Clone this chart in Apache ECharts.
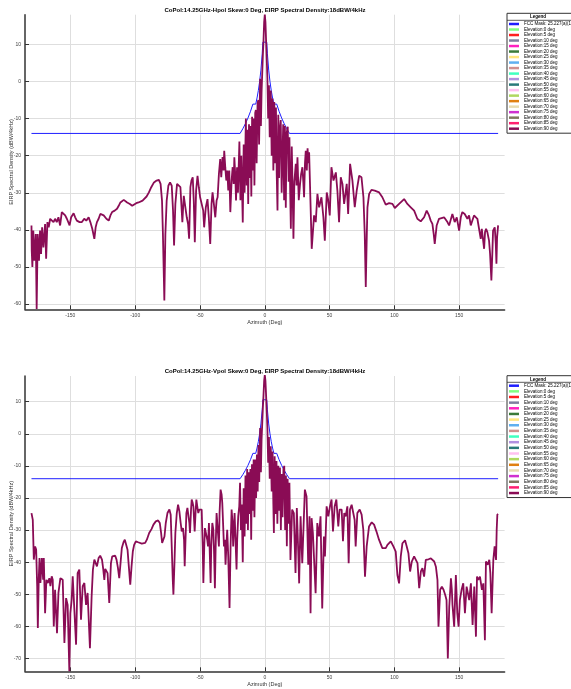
<!DOCTYPE html>
<html><head><meta charset="utf-8">
<script src="https://cdn.jsdelivr.net/npm/echarts@6/dist/echarts.min.js"></script>
<style>html,body{margin:0;padding:0;background:#fff}#c{width:571px;height:689px}</style>
</head><body><div id="c"></div>
<script>
const titleTop = 'CoPol:14.25GHz-Hpol Skew:0 Deg, EIRP Spectral Density:18dBW/4kHz';
const titleBot = 'CoPol:14.25GHz-Vpol Skew:0 Deg, EIRP Spectral Density:18dBW/4kHz';
const xName = 'Azimuth (Deg)';
const yName = 'EIRP Spectral Density (dBW/4kHz)';
const maskName = 'FCC Mask: 25.227(a)(1)(i)';
const elevNames = ['Elevation:0 deg','Elevation:5 deg','Elevation:10 deg','Elevation:15 deg','Elevation:20 deg','Elevation:25 deg','Elevation:30 deg','Elevation:35 deg','Elevation:40 deg','Elevation:45 deg','Elevation:50 deg','Elevation:55 deg','Elevation:60 deg','Elevation:65 deg','Elevation:70 deg','Elevation:75 deg','Elevation:80 deg','Elevation:85 deg','Elevation:90 deg'];
const elevColors = ['#80ff80','#ff2020','#7f7f9f','#ff20c0','#3a7a3a','#ffe680','#60b0f0','#d09090','#40ffc0','#b090e0','#2a7a7a','#ffc0f0','#b0d860','#e08010','#e8dcb0','#d030d0','#807860','#ff2070','#8a0c55'];

const maskAz = [-180,-19.05,-17,-15,-13,-11,-9.2,-7,-6,-5,-4,-3,-2,-1.5,1.5,2,3,4,5,6,7,9.2,11,13,15,17,19.05,180];
const maskDb = [-14,-14,-12.76,-11.4,-9.85,-8.03,-6.1,-6.1,-4.45,-2.47,-0.05,3.07,7.47,10.6,10.6,7.47,3.07,-0.05,-2.47,-4.45,-6.1,-6.1,-8.03,-9.85,-11.4,-12.76,-14,-14];

const hpolAz = [-180,-179.8,-179.3,-178.6,-177.8,-176.7,-176,-175.2,-174.2,-173.4,-172.6,-171.8,-170.8,-169.5,-168.7,-167.7,-166.7,-165.6,-164.3,-163,-161.8,-160.5,-159.2,-157.9,-156.6,-155.3,-154,-152.7,-150.6,-149.4,-147.5,-146.3,-145,-142.9,-141.1,-139.3,-137.7,-135.9,-134.6,-133.1,-131.5,-130.5,-129.5,-128.2,-126.9,-125.6,-124.3,-122.2,-120.4,-119.1,-117.8,-115.8,-114,-112.7,-111.4,-110.1,-108.8,-107.5,-106.2,-104.1,-102.3,-101,-99.2,-97.4,-95.9,-94.3,-92.8,-91.2,-89.4,-87.6,-85.5,-83.5,-81.7,-80.4,-79.3,-78.6,-77.5,-76.7,-75.7,-74.4,-73.1,-71.8,-70.8,-70,-69,-67.7,-66.4,-65.1,-63.6,-62.5,-61.5,-60.2,-59.2,-58.4,-57.4,-56.6,-55.6,-54.8,-54,-53,-51.9,-50.9,-49.9,-48.6,-47.5,-46.8,-45.5,-44.2,-43.2,-42.1,-41.1,-40.3,-39.3,-38.2,-37.2,-36.4,-35.4,-34.4,-33.6,-32.6,-31.8,-31.3,-30.5,-29.7,-28.9,-28.2,-27.4,-26.6,-25.6,-24.8,-24,-23.5,-22.7,-22.2,-21.4,-20.7,-19.6,-18.8,-18.1,-17,-16.3,-15.6,-14.6,-14,-13.4,-12.8,-12.2,-11.6,-11,-10.4,-9.8,-9.2,-8.6,-8,-7.4,-6.9,-6.3,-5.6,-5,-4.4,-3.6,-3,-2.5,-2,-1.5,-1,-0.5,0,0.5,1,1.5,2,2.6,3.2,3.8,4.6,5.3,6,6.6,7.3,8,8.6,9.2,9.8,10.4,11,11.6,12.3,13,13.6,14.2,14.9,15.5,16.2,16.8,17.7,18.4,19,19.6,20.1,20.8,21.5,22.1,22.8,23.9,24.5,25.2,26.2,27.2,28,29,29.7,30.3,31,31.6,32.4,33,33.6,34.2,35.2,36.2,38,39.3,40.6,41.9,43.7,45.2,46.3,47.8,48.8,50.1,51.4,53,54.8,56,57.3,58.6,59.9,61.2,63.2,64.3,65.8,67.6,69.4,70.9,72.8,74.6,76.1,77.1,77.9,78.7,79.2,80.5,82.3,84.8,88.2,90.7,93.3,95.9,98.5,100.3,103.6,107.5,110,112.6,115.2,117.7,120.3,122.9,124.9,126.7,128,129.3,130.3,131.1,131.9,132.6,134.4,135.7,138.3,140.9,142.2,144.7,146.5,148.1,149.9,151.2,152.4,154.2,156.3,157.6,158.9,160.2,161.4,162.7,164,165.3,166.6,167.4,168.4,169.2,169.9,170.7,171.7,173,173.8,174.8,175.6,176.1,176.9,177.4,178.2,178.7,179.2,180];
const hpolDb = [-38.8,-45.6,-50,-40.2,-48.3,-41.1,-61.3,-41.1,-48.3,-40.2,-46.5,-39.3,-44.7,-38.4,-47.8,-37.9,-39.3,-37,-36.6,-37.9,-37,-37.9,-36.6,-38.8,-35.2,-35.7,-36.1,-37,-38.8,-36.6,-35.5,-36.6,-37.5,-37.9,-37.9,-37,-37.5,-36.6,-37.9,-39.7,-42.4,-39.3,-37.9,-37,-35.7,-35.7,-36.1,-37,-37.5,-36.1,-35.2,-34.8,-34.3,-33.5,-32.6,-32.1,-31.9,-32.1,-32.6,-33,-33.5,-33.2,-32.8,-32.6,-32.3,-32.1,-31.7,-31,-29.9,-28.5,-27.2,-26.7,-26.5,-27.6,-32.1,-41.1,-59,-41.1,-32.1,-28.1,-27.2,-28.1,-34.8,-44.2,-33,-27.6,-27.2,-28.5,-37.9,-30.8,-31.2,-36.6,-38.4,-42.4,-28.5,-26.7,-25.8,-32.1,-43.3,-29.4,-25.4,-28.5,-31.2,-30.8,-34.8,-39.3,-33.9,-31.7,-36.6,-43.8,-33,-29.9,-33,-36.6,-32.1,-31.2,-24.9,-20.9,-25.8,-20.4,-24,-18.7,-23.1,-26.7,-24,-29.4,-24,-35.2,-26.7,-23.1,-27.6,-20.4,-25.8,-32.1,-23.1,-30,-16.2,-32,-20,-38,-17,-30,-10,-28,-13,-33,-11.5,-26,-12,-31,-9.5,-24,-10,-28,-8.5,-7.7,-22,-6,-5,-17,0.7,-12,-3,2,7,11,16,18,16,11,6,1,-10,-1,-15,-2.4,-20,-4.6,-24,-5.5,-22,-7,-25,-34.8,-9,-26,-13,-10.4,-30,-20.4,-11.5,-32,-12,-34,-14,-12.2,-27,-15,-30,-39.7,-17.5,-30,-42.4,-27,-22.2,-28,-20.4,-32,-27.6,-25,-23.1,-27,-31.2,-22,-18.7,-24,-18,-22,-19.1,-32,-45.1,-36.1,-37.9,-30.3,-33.9,-31.2,-36.6,-42.9,-29.9,-31.7,-36.1,-23.1,-26.7,-24.5,-29.4,-37.9,-25.8,-27.6,-33,-27.6,-35.7,-22.2,-26.7,-33.9,-29.4,-25.4,-25.8,-31.2,-41.1,-55.4,-41.1,-33.9,-30.3,-29.2,-29.4,-29.9,-31.2,-33.2,-32.8,-33,-34.1,-33,-31.7,-33,-33.9,-34.8,-37,-37.7,-36.6,-34.8,-36.1,-37.5,-38.4,-41.1,-43.8,-41.1,-38.8,-37,-36.6,-36.6,-37.9,-38.8,-35.7,-37.9,-36.6,-40.2,-36.6,-35.2,-35.7,-37,-36.1,-38.8,-38.4,-36.1,-35.7,-37,-36.6,-42.4,-39.7,-40.2,-45.1,-40.6,-39.7,-40.6,-42.9,-46.5,-53.6,-45.6,-40.2,-39.7,-39.3,-43.8,-49.1,-42,-38.8];

const vpolAz = [-180,-179,-178.2,-177.2,-176.4,-175.6,-175.1,-174.4,-173.8,-173.1,-172,-171,-170.5,-169.5,-168.5,-167.4,-166.2,-165.4,-164.4,-163.6,-162.8,-161.8,-161,-160.3,-159.2,-157.7,-156.7,-155.9,-154.6,-153.3,-152.1,-150.8,-150,-149,-148.2,-146.9,-145.6,-144.4,-143.1,-141.8,-140.5,-139.2,-137.9,-136.7,-134.9,-133.6,-132.6,-131.5,-130.3,-129.5,-128.2,-127,-125.6,-124.6,-123.8,-123.1,-122.1,-121.3,-120,-118.7,-117.7,-116.7,-115.4,-114.4,-113.3,-112.3,-111.3,-110.3,-109,-108,-106.9,-105.9,-104.9,-103.8,-102.8,-101.8,-100.8,-99.5,-97.7,-96.2,-94.9,-93.6,-92.3,-91,-89.2,-87.4,-85.9,-84.1,-82.3,-81,-80,-79.2,-78.2,-77.4,-76.4,-75.1,-73.6,-72.6,-71.8,-71,-70.5,-69.7,-69,-67.9,-66.9,-65.9,-64.9,-64.1,-63.1,-62.3,-61.8,-61,-60.5,-59.7,-58.9,-58.2,-57.7,-56.9,-56.4,-55.6,-55.1,-54.1,-53.3,-52.8,-52.1,-51.3,-50.5,-49.5,-48.7,-47.9,-47.4,-46.7,-46.2,-45.1,-44.4,-43.8,-43.1,-42.6,-41.8,-41.3,-40.5,-39.7,-39.2,-38.5,-37.9,-37.2,-36.2,-35.4,-34.9,-34.1,-33.3,-32.8,-32.1,-31.5,-30.8,-30.3,-29.5,-29,-28.2,-27.2,-26.4,-25.6,-24.9,-24.4,-23.8,-23.3,-22.6,-21.8,-21.3,-20.5,-19.7,-19.1,-18.4,-17.8,-17,-16.3,-15.6,-14.9,-14.3,-13.6,-13,-12.4,-11.8,-11.1,-10.5,-9.9,-9.3,-8.6,-8,-7.3,-6.7,-6.1,-5.5,-4.9,-4.3,-3.6,-3,-2.5,-2,-1.5,-1,-0.5,0,0.5,1,1.5,2,2.6,3.2,3.8,4.6,5.3,6,6.6,7,7.6,8.3,9,9.7,10.4,11,11.7,12.4,13,13.7,14.4,15,15.7,16.3,17,17.6,18.3,19,19.8,21.1,22.4,23.7,24.7,25.8,26.5,27.6,28.9,29.6,30.9,32.2,33.5,34.5,35.3,36.1,37.1,37.9,39.2,40.5,41.8,43,44.3,45.6,46.4,47.7,49,50.3,51.5,52.6,53.9,55.2,56.7,57.7,59.3,60.3,61.3,62.4,63.7,64.7,65.7,67,68.3,69.3,70.1,71.4,73.2,74.7,76,77.3,78.6,80.4,82.5,84.3,86.1,88.1,90.7,92,93.3,94.6,97.2,99.2,101,102.3,103.6,104.9,106.2,108.2,109.5,110.8,112.1,113.4,115.2,116.5,117.8,119.1,120.4,121.6,122.9,124.2,126.3,128.1,129.4,130.7,132,133.2,134,135.3,136.6,137.9,139.2,140.2,141.2,142.3,143.6,144.3,144.8,146.1,147.4,148.5,149.5,150.5,151.8,153.1,154.4,155.7,156.7,157.7,159,160.3,161.6,162.9,163.7,164.7,166,167.5,168.6,169.8,170.6,171.9,173.2,174,175,176.3,177.3,178.4,178.9,179.4,180];
const vpolDb = [-24.7,-26.8,-39.2,-35.1,-36.1,-47.5,-60.5,-45.5,-38.7,-46.5,-38.7,-45.5,-38.7,-55.9,-45.5,-46.5,-45,-47.5,-44.4,-45.5,-60,-48.6,-48.6,-62.1,-49.6,-45,-44.4,-45.5,-65.2,-51.2,-53.3,-74,-55.9,-51.7,-44.4,-43.9,-65.7,-43.4,-42.3,-57.9,-47.5,-46.5,-53.3,-49.6,-66.8,-50.7,-42.3,-39.2,-39.2,-41.3,-38.7,-38,-39.2,-42.3,-45.5,-42.1,-41.8,-43.4,-52.7,-40.3,-38.2,-37.7,-38,-39.2,-41.8,-45,-40.3,-35.6,-33.8,-33,-33.5,-36.1,-41.3,-47,-41.3,-36.6,-34.6,-33.5,-33.8,-33.6,-34.2,-34.6,-34,-33,-30.9,-29.7,-28.3,-27.3,-27,-27.8,-30.9,-34,-34.6,-32,-27.8,-24.7,-23.6,-25.2,-35.1,-45.5,-50.1,-40.3,-30.9,-24.7,-22.1,-24.2,-27.8,-30.4,-29.4,-33,-41.3,-30.9,-24.7,-23.1,-23.6,-27.8,-30.9,-23.6,-20.5,-21.6,-22.6,-30.4,-23.6,-20.5,-22.6,-24.7,-23.6,-23.1,-23.6,-35.1,-46.5,-35.1,-29.4,-29.9,-33,-35.1,-27.8,-35.1,-46.5,-35.1,-27.8,-29.9,-36.1,-48.1,-35.1,-24.7,-24.2,-35.1,-24.7,-17.4,-19,-21.6,-28.8,-35.1,-33,-40.8,-34,-29.9,-38.2,-54.3,-35.1,-23.6,-27.8,-35.1,-28.8,-24.7,-33,-42.3,-33,-25.7,-22.6,-15.3,-30,-22,-40,-17,-32,-13,-28,-11,-30,-12,-25,-11,-33,-9.5,-24,-8,-26,-8,-20,-6.5,-18,-3.5,-15,1.8,-12,-2,3,8,12,16.5,18.3,16.5,12,7,2,-9,-1,-14,-3.9,-18,-5.5,-22,-30.9,-7,-25,-8.5,-28,-10,-24,-10.5,-30,-12.5,-26,-11,-10,-30,-13,-35,-14,-28,-15.3,-39.3,-23.6,-24.7,-43.4,-23.1,-36.7,-46.6,-25.7,-40.3,-40.8,-17.4,-19.5,-40.8,-25.7,-55.9,-26.3,-30.9,-31.5,-49.7,-27.8,-32,-25.7,-54.4,-32,-38.2,-22.6,-25.7,-22.6,-20.5,-30.4,-22.6,-20.5,-28.9,-23.6,-23.6,-33.5,-24.7,-25.7,-22.6,-40.3,-23.6,-22.1,-22.6,-26.8,-35.1,-24.7,-23.6,-25.2,-29.9,-44.5,-35.1,-28.9,-27.6,-28.3,-30.4,-33,-35.6,-35.9,-35.6,-34.6,-33.5,-35.1,-36.7,-44,-46.6,-38.2,-34.1,-33.2,-35.1,-37.2,-42.9,-39.8,-38.2,-38.8,-40.3,-48.1,-42.9,-41.9,-44.5,-39.3,-39.1,-38.8,-38.8,-39.8,-41.4,-45.5,-60.1,-48.6,-47.6,-48.6,-50.2,-51.8,-70,-53.9,-45,-48.6,-53.3,-60.1,-44,-55.9,-60.1,-51.8,-48.6,-46.6,-55.9,-47.6,-47.6,-51.8,-46.6,-59.6,-47.6,-63.2,-44.5,-45.5,-44.5,-48.6,-46.6,-64.3,-39.8,-40.8,-39.3,-43.4,-55.9,-39.3,-35.1,-39.3,-29.9,-25.2,-25];

const FONT = '"Liberation Sans", Arial, sans-serif';
function zip(a, b) { return a.map((x, i) => [x, b[i]]); }

function panelSeries(idx, az, db) {
  const s = [{
    name: maskName, type: 'line', xAxisIndex: idx, yAxisIndex: idx,
    data: zip(maskAz, maskDb), symbol: 'none', z: 2,
    lineStyle: { color: '#1f1fff', width: 1 }, itemStyle: { color: '#1f1fff' }
  }];
  elevNames.forEach((n, i) => {
    const last = i === elevNames.length - 1;
    s.push({
      name: n, type: 'line', xAxisIndex: idx, yAxisIndex: idx,
      data: last ? zip(az, db) : [], symbol: 'none', z: last ? 4 : 3,
      lineStyle: { color: elevColors[i], width: 1.8 }, itemStyle: { color: elevColors[i] }
    });
  });
  return s;
}

function xAxis(idx) {
  return {
    type: 'value', gridIndex: idx, min: -185, max: 185, minInterval: 50, maxInterval: 50,
    name: xName, nameLocation: 'middle', nameGap: 10, nameMoveOverlap: false,
    nameTextStyle: { fontSize: 5.5, color: '#333', fontFamily: FONT },
    axisLine: { show: true, onZero: false, lineStyle: { color: '#333', width: 1.5 } },
    axisTick: { show: true, inside: true, length: 4, lineStyle: { color: '#333', width: 1 } },
    axisLabel: { fontSize: 5, color: '#444', margin: 4, fontFamily: FONT, showMinLabel: false, showMaxLabel: false, hideOverlap: false },
    splitLine: { show: true, showMinLine: false, showMaxLine: false, lineStyle: { color: '#dedede', width: 1 } }
  };
}
function yAxis(idx, min, max) {
  return {
    type: 'value', gridIndex: idx, min: min, max: max, minInterval: 10, maxInterval: 10,
    name: yName, nameLocation: 'middle', nameGap: 11, nameMoveOverlap: false,
    nameTextStyle: { fontSize: 5.5, color: '#333', fontFamily: FONT },
    axisLine: { show: true, onZero: false, lineStyle: { color: '#333', width: 1.5 } },
    axisTick: { show: true, inside: true, length: 4, lineStyle: { color: '#333', width: 1 } },
    axisLabel: { fontSize: 5, color: '#444', margin: 4, fontFamily: FONT, showMinLabel: false, showMaxLabel: false, hideOverlap: false },
    splitLine: { show: true, showMinLine: false, showMaxLine: false, lineStyle: { color: '#dedede', width: 1 } }
  };
}
function legend(top, padTop, gap) {
  return {
    data: [maskName].concat(elevNames), orient: 'vertical', left: 507, top: top,
    padding: [padTop, 40, 2, 2], itemWidth: 10, itemHeight: 2.5, itemGap: gap, icon: 'rect',
    selectedMode: false, backgroundColor: '#fff', borderColor: '#333', borderWidth: 1,
    textStyle: { fontSize: 4.5, lineHeight: 5, color: '#000', fontFamily: FONT }
  };
}

const chart = echarts.init(document.getElementById('c'), null, { renderer: 'canvas' });
chart.setOption({
  animation: false,
  backgroundColor: '#fff',
  textStyle: { fontFamily: FONT },
  title: [
    { text: titleTop, left: 265, top: 7, textAlign: 'center', padding: 0, textStyle: { fontSize: 6, fontWeight: 'bold', color: '#000', fontFamily: FONT } },
    { text: titleBot, left: 265, top: 368.5, textAlign: 'center', padding: 0, textStyle: { fontSize: 6, fontWeight: 'bold', color: '#000', fontFamily: FONT } },
    { text: 'Legend', left: 538, top: 14.5, textAlign: 'center', padding: 0, textStyle: { fontSize: 4.5, fontWeight: 'bold', color: '#000', fontFamily: FONT } },
    { text: 'Legend', left: 538, top: 377, textAlign: 'center', padding: 0, textStyle: { fontSize: 4.5, fontWeight: 'bold', color: '#000', fontFamily: FONT } }
  ],
  legend: [legend(13.3, 8.2, 0.51), legend(375.7, 7.5, 0.65)],
  graphic: [
    { type: 'line', shape: { x1: 507, y1: 20.3, x2: 571, y2: 20.3 }, style: { stroke: '#333', lineWidth: 0.8 }, z: 100 },
    { type: 'line', shape: { x1: 507, y1: 382.3, x2: 571, y2: 382.3 }, style: { stroke: '#333', lineWidth: 0.8 }, z: 100 }
  ],
  grid: [
    { left: 25, top: 14.7, width: 479.6, height: 294.6, outerBoundsMode: 'none' },
    { left: 25, top: 376, width: 479.6, height: 295.3, outerBoundsMode: 'none' }
  ],
  xAxis: [xAxis(0), xAxis(1)],
  yAxis: [yAxis(0, -61.4, 18), yAxis(1, -74, 18)],
  series: panelSeries(0, hpolAz, hpolDb).concat(panelSeries(1, vpolAz, vpolDb))
});
</script>
</body></html>
